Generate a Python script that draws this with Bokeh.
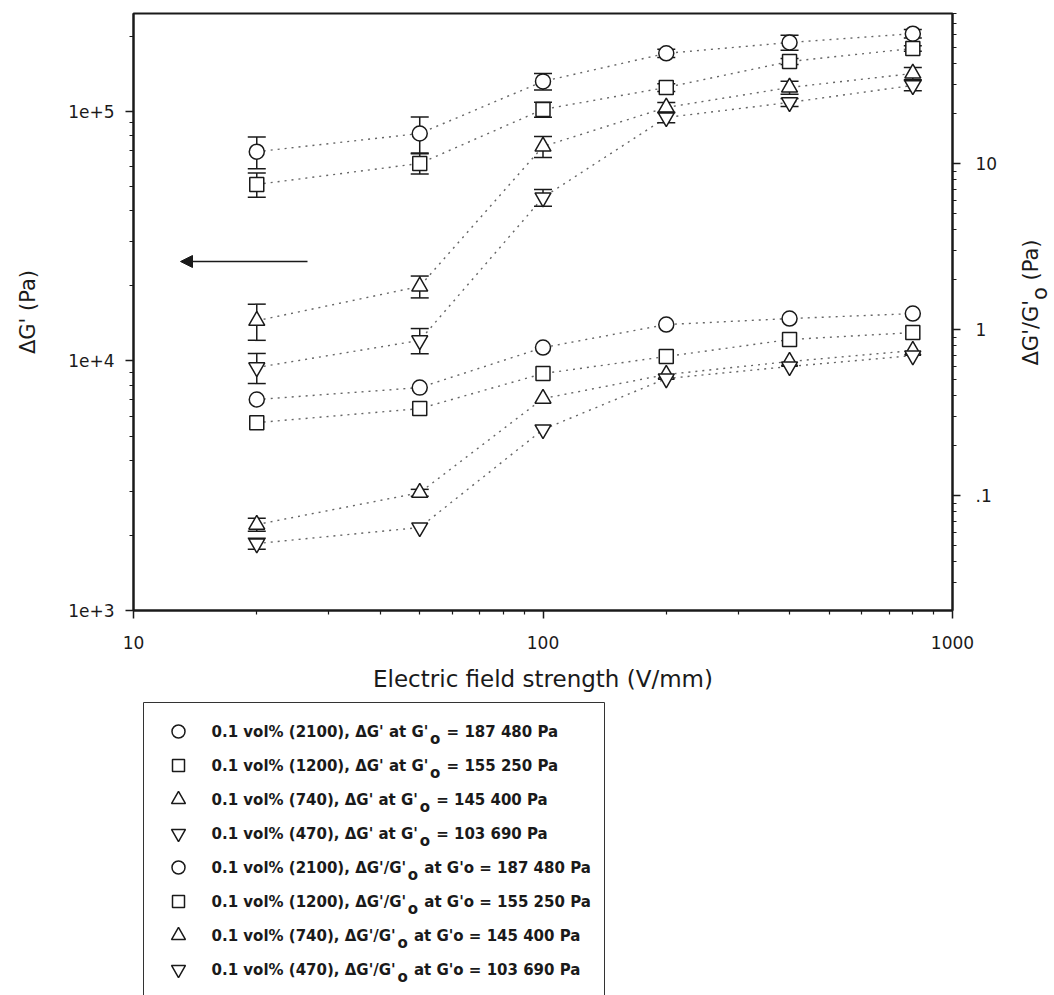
import math

from bokeh.embed import file_html
from bokeh.layouts import column, row
from bokeh.models import (Arrow, FixedTicker, Label, LogAxis, LogScale, NormalHead,
                          Range1d)
from bokeh.plotting import figure
from bokeh.resources import INLINE

# ---- data -----------------------------------------------------------------
field = [20, 50, 100, 200, 400, 800]  # V/mm

# storage-modulus increase, Pa (left axis)
dg_2100 = [69000, 81600, 132000, 171000, 189000, 205000]
dg_1200 = [51000, 61900, 101900, 124800, 158600, 178900]
dg_740 = [14500, 19900, 72400, 103800, 124800, 142000]
dg_470 = [9420, 12090, 45200, 94600, 108700, 127200]

dg_2100_err = [10000, 13500, 10000, 6500, 13000, 8000]
dg_1200_err = [5700, 5800, 7000, 4500, 4500, 4500]
dg_740_err = [2400, 2000, 7000, 4800, 7500, 8000]
dg_470_err = [1300, 1400, 3500, 4500, 4000, 6000]

# relative increase dG'/G'o (right axis)
ratio_2100 = [0.379, 0.447, 0.779, 1.072, 1.165, 1.248]
ratio_1200 = [0.275, 0.334, 0.543, 0.688, 0.871, 0.959]
ratio_740 = [0.0669, 0.104, 0.384, 0.536, 0.642, 0.747]
ratio_470 = [0.0514, 0.0642, 0.250, 0.507, 0.599, 0.697]

ratio_740_err = [0.006, 0.005, 0, 0, 0, 0]
ratio_470_err = [0.004, 0, 0, 0, 0, 0]

x_ticks = [10, 100, 1000]
x_tick_labels = ["10", "100", "1000"]
left_ticks = [1e3, 1e4, 1e5]
left_tick_labels = ["1e+3", "1e+4", "1e+5"]
right_ticks = [0.1, 1, 10]
right_tick_labels = [".1", "1", "10"]

legend_main = [
    "0.1 vol% (2100), \u0394G' at G'",
    "0.1 vol% (1200), \u0394G' at G'",
    "0.1 vol% (740), \u0394G' at G'",
    "0.1 vol% (470), \u0394G' at G'",
    "0.1 vol% (2100), \u0394G'/G'",
    "0.1 vol% (1200), \u0394G'/G'",
    "0.1 vol% (740), \u0394G'/G'",
    "0.1 vol% (470), \u0394G'/G'",
]
legend_rest = [
    " = 187 480 Pa",
    " = 155 250 Pa",
    " = 145 400 Pa",
    " = 103 690 Pa",
    " at G'o = 187 480 Pa",
    " at G'o = 155 250 Pa",
    " at G'o = 145 400 Pa",
    " at G'o = 103 690 Pa",
]

# ---- styling helpers --------------------------------------------------------
INK = "#1a1a1a"
FONT = "DejaVu Sans"

# approximate advance widths (em) used to chain text runs with subscripts
BOLD_W = {" ": .348, ".": .380, ",": .380, "v": .652, "o": .687, "l": .343,
          "%": 1.002, "(": .457, ")": .457, "\u0394": .774, "G": .821, "'": .331,
          "a": .675, "t": .478, "/": .365, "=": .838, "P": .733}
NORM_W = {" ": .318, "\u0394": .684, "G": .775, "'": .275, "/": .337, "o": .612,
          "(": .390, ")": .390, "P": .603, "a": .613}


def run_width(s, size, table):
    return sum(table.get(ch, .696 if ch.isdigit() else .62) for ch in s) * size


def split_lead(s):
    """SVG drops leading blanks, so return them separately from the visible text."""
    stripped = s.lstrip(" ")
    return s[:len(s) - len(stripped)], stripped


# canvas geometry
W, H = 1054, 995
TOP_H = 700            # height of the chart row
SIDE_W = 46            # strip on the right holding the right-axis title
F_LEFT, F_RIGHT, F_TOP, F_BOTTOM = 133, 952, 13, 610
MAIN_W = W - SIDE_W

p = figure(width=MAIN_W, height=TOP_H, x_axis_type="log", y_axis_type="log",
           x_range=Range1d(10, 1000), y_range=Range1d(1e3, 2.47e5),
           output_backend="svg", toolbar_location=None,
           min_border_left=F_LEFT, min_border_right=MAIN_W - F_RIGHT,
           min_border_top=F_TOP, min_border_bottom=TOP_H - F_BOTTOM)
p.extra_y_ranges = {"ratio": Range1d(0.0203, 80.2)}
p.extra_y_scales = {"ratio": LogScale()}
p.grid.visible = False
p.outline_line_color = INK
p.outline_line_width = 2
p.background_fill_color = "white"
p.border_fill_color = "white"

right_axis = LogAxis(y_range_name="ratio")
p.add_layout(right_axis, "right")


def minors(majors, lo, hi):
    out = []
    for m in majors + [majors[0] / 10]:
        for k in range(2, 10):
            v = m * k
            if lo < v < hi:
                out.append(v)
    return out


p.xaxis.ticker = FixedTicker(ticks=x_ticks, minor_ticks=minors(x_ticks, 10, 1000))
p.yaxis[0].ticker = FixedTicker(ticks=left_ticks, minor_ticks=minors(left_ticks, 1e3, 2.47e5))
right_axis.ticker = FixedTicker(ticks=right_ticks, minor_ticks=minors(right_ticks, 0.0203, 80.2))
p.xaxis.major_label_overrides = dict(zip(x_ticks, x_tick_labels))
p.yaxis[0].major_label_overrides = dict(zip(left_ticks, left_tick_labels))
right_axis.major_label_overrides = dict(zip(right_ticks, right_tick_labels))

for ax in (p.xaxis[0], p.yaxis[0], right_axis):
    ax.axis_line_color = INK
    ax.axis_line_width = 2
    ax.major_tick_line_color = INK
    ax.minor_tick_line_color = INK
    ax.major_tick_line_width = 1.5
    ax.minor_tick_line_width = 1.2
    ax.major_tick_out = 8
    ax.major_tick_in = 0
    ax.minor_tick_out = 4
    ax.minor_tick_in = 0
    ax.major_label_text_font = FONT
    ax.major_label_text_font_size = "17px"
    ax.major_label_text_color = INK
    ax.axis_label_text_font = FONT
    ax.axis_label_text_font_style = "normal"
    ax.axis_label_text_color = INK

p.xaxis.axis_label = "Electric field strength (V/mm)"
p.xaxis.axis_label_text_font_size = "23px"
p.xaxis.major_label_standoff = 17
p.xaxis.axis_label_standoff = 14

p.yaxis[0].axis_label = "\u0394G' (Pa)"
p.yaxis[0].axis_label_text_font_size = "21px"
p.yaxis[0].major_label_standoff = 11
p.yaxis[0].axis_label_standoff = 25
right_axis.major_label_standoff = 15

# ---- series -----------------------------------------------------------------
LINE = dict(line_color="#666666", line_dash="2 5", line_width=1.4)
MARK = dict(line_color=INK, fill_color="white", line_width=1.5)
shapes = [("circle", 15), ("square", 14), ("triangle", 16), ("inverted_triangle", 16)]

upper = [(dg_2100, dg_2100_err), (dg_1200, dg_1200_err),
         (dg_740, dg_740_err), (dg_470, dg_470_err)]
lower = [(ratio_2100, None), (ratio_1200, None),
         (ratio_740, ratio_740_err), (ratio_470, ratio_470_err)]


def draw_set(sets, range_name):
    kw = {} if range_name is None else {"y_range_name": range_name}
    for (vals, errs), (shape, size) in zip(sets, shapes):
        p.line(field, vals, **LINE, **kw)
        if errs is not None:
            xs = [x for x, e in zip(field, errs) if e > 0]
            lo = [v - e for v, e in zip(vals, errs) if e > 0]
            hi = [v + e for v, e in zip(vals, errs) if e > 0]
            p.segment(x0=xs, y0=lo, x1=xs, y1=hi, line_color=INK, line_width=1.5, **kw)
            p.scatter(xs + xs, lo + hi, marker="dash", size=18,
                      line_color=INK, line_width=1.5, **kw)
        p.scatter(field, vals, marker=shape, size=size, **MARK, **kw)


draw_set(upper, None)
draw_set(lower, "ratio")

# arrow pointing to the left axis
p.add_layout(Arrow(x_start=307 - F_LEFT, y_start=F_BOTTOM - 261,
                   x_end=180 - F_LEFT, y_end=F_BOTTOM - 261,
                   start_units="screen", end_units="screen",
                   line_color=INK, line_width=1.5,
                   end=NormalHead(size=12, fill_color=INK, line_color=INK)))


def pixel_canvas(width, height, top=0, bottom=0):
    """A bare figure whose data units are canvas pixels (y measured upward)."""
    f = figure(width=width, height=height, title=None,
               x_range=Range1d(0, width), y_range=Range1d(bottom, height - top),
               output_backend="svg", toolbar_location=None,
               x_axis_location=None, y_axis_location=None,
               min_border=0, min_border_left=0, min_border_right=0,
               min_border_top=top, min_border_bottom=bottom)
    f.grid.visible = False
    f.outline_line_color = None
    f.background_fill_color = "white"
    f.border_fill_color = "white"
    return f


# ---- right axis title with subscript ------------------------------------------
# its frame lines up with the chart frame, so give it the same borders
side = pixel_canvas(SIDE_W, TOP_H, top=F_TOP, bottom=TOP_H - F_BOTTOM)
R_SIZE = 21
r_x = 1030 - MAIN_W
r_y = TOP_H - 365
for txt, dx in (("\u0394G'/G'", 0), ("o", 9), (" (Pa)", 0)):
    lead, body = split_lead(txt)
    r_y += run_width(lead, R_SIZE, NORM_W)
    side.add_layout(Label(x=r_x + dx, y=r_y, text=body, angle=math.pi / 2,
                          text_align="left", text_baseline="middle", text_font=FONT,
                          text_font_size=f"{R_SIZE}px", text_color=INK))
    r_y += run_width(body, R_SIZE, NORM_W)

# ---- legend box -------------------------------------------------------------
BOT_H = H - TOP_H
leg = pixel_canvas(W, BOT_H)
ROW = 34
FIRST_ROW = 731 - TOP_H      # centre of the first entry, measured from the top
leg.quad(left=143, right=604, top=BOT_H - (702 - TOP_H), bottom=-20,
         fill_color="white", line_color="#333333", line_width=1)

T_SIZE = 15
rows_y = [BOT_H - (FIRST_ROW + ROW * i) for i in range(len(legend_main))]
for i, ((shape, size), cy) in enumerate(zip(shapes * 2, rows_y)):
    leg.scatter([178], [cy], marker=shape, size=size - 2, **MARK)
    x = 211
    for txt, dy in ((legend_main[i], 0), ("o", -7), (legend_rest[i], 0)):
        lead, body = split_lead(txt)
        x += run_width(lead, T_SIZE, BOLD_W)
        leg.add_layout(Label(x=x, y=cy + dy, text=body, text_align="left",
                             text_baseline="middle", text_font=FONT,
                             text_font_style="bold", text_font_size=f"{T_SIZE}px",
                             text_color=INK))
        x += run_width(body, T_SIZE, BOLD_W) + 1

page = column(row(p, side), leg)
open("out.html", "w").write(file_html(page, INLINE))
